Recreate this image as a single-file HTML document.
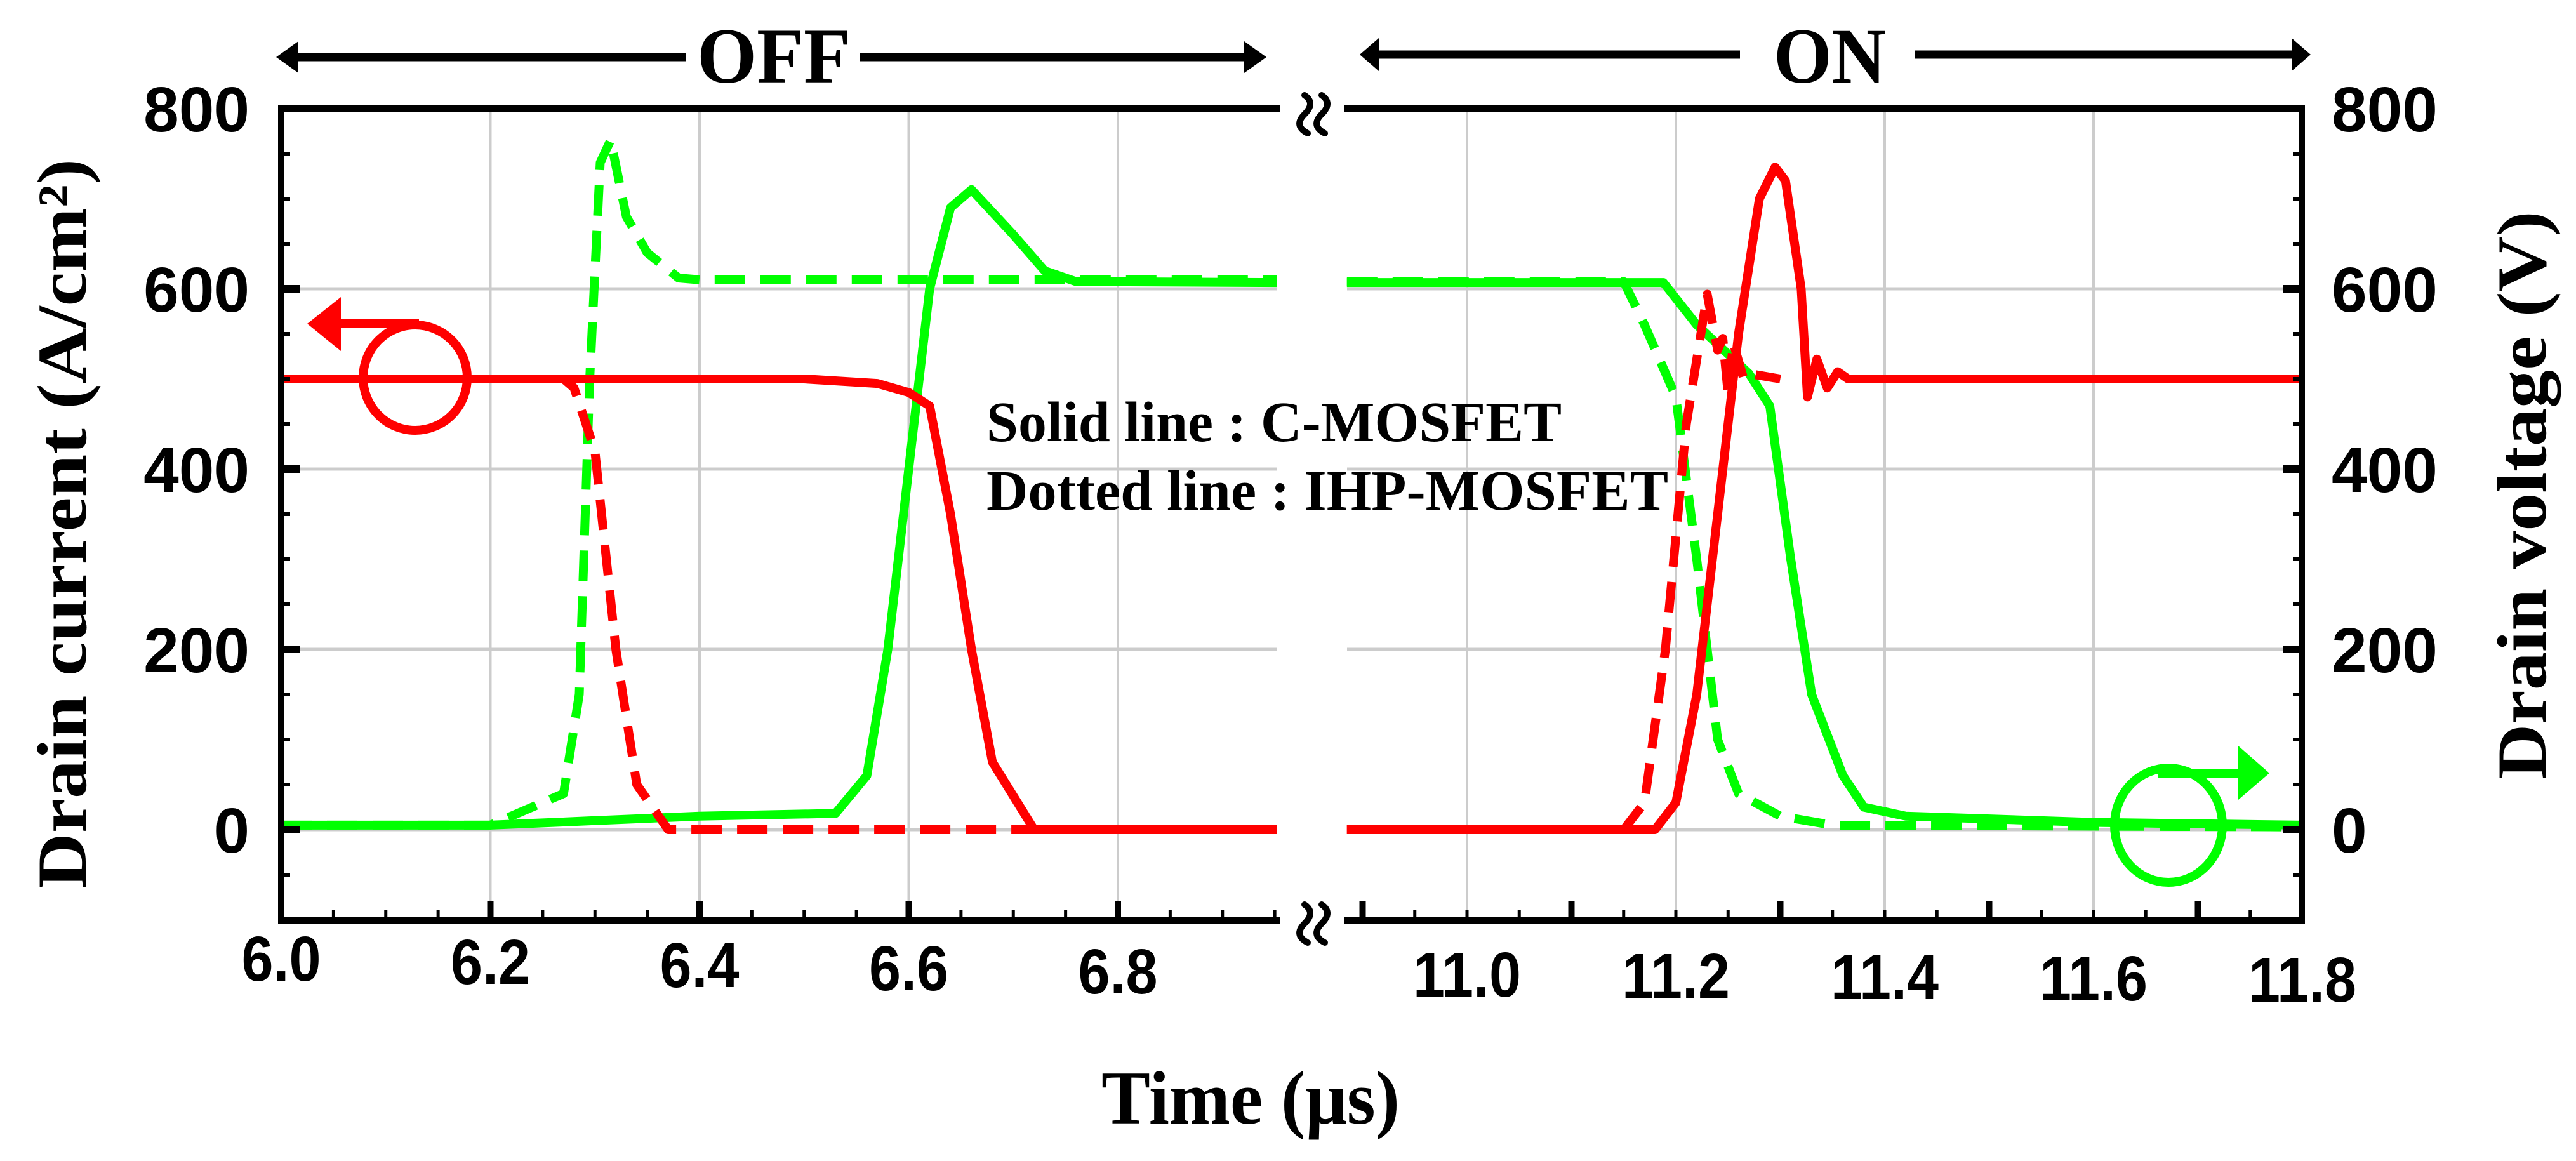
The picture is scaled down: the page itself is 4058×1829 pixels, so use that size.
<!DOCTYPE html>
<html><head><meta charset="utf-8"><style>
html,body{margin:0;padding:0;background:#fff;}
svg{display:block;}
text{font-family:"Liberation Serif",serif;font-weight:bold;fill:#000;}
.tk{font-family:"Liberation Sans",sans-serif;font-weight:bold;}
</style></head><body>
<svg id="chart" width="4058" height="1829" viewBox="0 0 4058 1829" xmlns="http://www.w3.org/2000/svg">
<g id="grid"></g>
<g id="series"></g>
<g id="axes"></g>
</svg>
<script>
// ---- data (time in µs, current in A/cm², voltage in V) ----
const yTicks = [0, 200, 400, 600, 800];
const xTicksOff = [6.0, 6.2, 6.4, 6.6, 6.8];
const xTicksOn = [11.0, 11.2, 11.4, 11.6, 11.8];
const xTickLabelsOff = ["6.0", "6.2", "6.4", "6.6", "6.8"];
const xTickLabelsOn = ["11.0", "11.2", "11.4", "11.6", "11.8"];

// C-MOSFET drain voltage (solid green)
const cVoltOffT = [6.0, 6.2, 6.3, 6.4, 6.53, 6.56, 6.58, 6.6, 6.62, 6.64, 6.66, 6.7, 6.73, 6.76, 6.952];
const cVoltOffV = [5, 5, 10, 15, 18, 60, 200, 400, 600, 690, 710, 660, 620, 608, 607];
const cVoltOnT = [10.885, 11.188, 11.22, 11.27, 11.29, 11.31, 11.33, 11.36, 11.38, 11.42, 11.6, 11.8];
const cVoltOnV = [607, 607, 560, 506, 470, 300, 150, 60, 25, 15, 8, 5];

// IHP-MOSFET drain voltage (dashed green)
const iVoltOffT = [6.0, 6.2, 6.27, 6.285, 6.295, 6.305, 6.315, 6.33, 6.35, 6.38, 6.4, 6.952];
const iVoltOffV = [5, 5, 40, 150, 500, 740, 765, 680, 640, 612, 610, 610];
const iVoltOnT = [10.885, 11.15, 11.17, 11.2, 11.22, 11.24, 11.26, 11.3, 11.35, 11.8];
const iVoltOnV = [608, 608, 560, 480, 300, 100, 40, 15, 5, 3];

// C-MOSFET drain current (solid red)
const cCurOffT = [6.0, 6.5, 6.57, 6.6, 6.62, 6.64, 6.66, 6.68, 6.72, 6.952];
const cCurOffV = [500, 500, 495, 485, 470, 350, 200, 75, 0, 0];
const cCurOnT = [10.885, 11.18, 11.2, 11.22, 11.24, 11.26, 11.28, 11.295, 11.305, 11.32, 11.326, 11.335, 11.345, 11.355, 11.365, 11.8];
const cCurOnV = [0, 0, 30, 150, 350, 550, 700, 735, 720, 600, 480, 522, 490, 508, 500, 500];

// IHP-MOSFET drain current (dashed red)
const iCurOffT = [6.0, 6.27, 6.28, 6.3, 6.32, 6.34, 6.37, 6.952];
const iCurOffV = [500, 500, 490, 420, 200, 50, 0, 0];
const iCurOnT = [10.885, 11.15, 11.17, 11.19, 11.21, 11.23, 11.24, 11.245, 11.25, 11.255, 11.265, 11.275, 11.3];
const iCurOnV = [0, 0, 30, 200, 450, 594, 532, 545, 483, 540, 500, 505, 500];

// ---- axis functions ----
const Y0 = 1307, PXV = 1.42;
function yS(v){ return Y0 - v*PXV; }
function xOff(t){ return 443 + (t-6.0)*1647.5; }
function xOn(t){ return 2311 + (t-11.0)*1645; }
const NS = "http://www.w3.org/2000/svg";
function mk(tag, attrs, parent){
  const e = document.createElementNS(NS, tag);
  for (const k in attrs) e.setAttribute(k, attrs[k]);
  parent.appendChild(e); return e;
}
const grid = document.getElementById('grid');
const ser = document.getElementById('series');
const ax = document.getElementById('axes');
const TOP = 171, BOT = 1450, L = 443, R = 3626, BRK1 = 2012, BRK2 = 2122;

yTicks.forEach(v => {
  if (v === 800) return;
  const g1 = mk('line', {x1:L, x2:BRK1, y1:yS(v), y2:yS(v), stroke:'#cccccc', 'stroke-width':5}, grid);
  
  
  const g2 = mk('line', {x1:BRK2, x2:R, y1:yS(v), y2:yS(v), stroke:'#cccccc', 'stroke-width':5}, grid);
  
  
});
xTicksOff.forEach(t => { if (t===6.0) return;
  const g = mk('line', {x1:xOff(t), x2:xOff(t), y1:TOP, y2:BOT, stroke:'#cccccc', 'stroke-width':4}, grid);
  
  
});
xTicksOn.forEach(t => { if (t===11.8) return;
  const g = mk('line', {x1:xOn(t), x2:xOn(t), y1:TOP, y2:BOT, stroke:'#cccccc', 'stroke-width':4}, grid);
  
  
});

function line(T, V, xf, color, dashed, name){
  const pts = T.map((t,i) => xf(t).toFixed(1)+','+yS(V[i]).toFixed(1)).join(' ');
  const a = {points:pts, fill:'none', stroke:color, 'stroke-width':14, 'stroke-linejoin':'round'};
  if (dashed) a['stroke-dasharray'] = '48 24';
  const p = mk('polyline', a, ser);
  
  
}
const G = '#00ff00', RD = '#ff0000';
line(iVoltOffT, iVoltOffV, xOff, G, true, 'ihp-voltage-off');
line(iVoltOnT, iVoltOnV, xOn, G, true, 'ihp-voltage-on');
line(cVoltOffT, cVoltOffV, xOff, G, false, 'c-voltage-off');
line(cVoltOnT, cVoltOnV, xOn, G, false, 'c-voltage-on');
line(iCurOffT, iCurOffV, xOff, RD, true, 'ihp-current-off');
line(iCurOnT, iCurOnV, xOn, RD, true, 'ihp-current-on');
line(cCurOffT, cCurOffV, xOff, RD, false, 'c-current-off');
line(cCurOnT, cCurOnV, xOn, RD, false, 'c-current-on');

const frame = [[L,TOP,BRK1,TOP],[BRK2,TOP,R,TOP],[L,BOT,BRK1,BOT],[BRK2,BOT,R,BOT],[L,TOP,L,BOT],[R,TOP,R,BOT]];
frame.forEach(f => {
  const e = mk('line', {x1:f[0], y1:f[1], x2:f[2], y2:f[3], stroke:'#000', 'stroke-width':10, 'stroke-linecap':'square'}, ax);
  
  
});
for (let v = -100; v <= 800; v += 50) {
  const major = v % 200 === 0;
  const len = major ? 30 : 14;
  const e1 = mk('line', {x1:L, x2:L+len, y1:yS(v), y2:yS(v), stroke:'#000', 'stroke-width':major?12:6}, ax);
  
  
  const e2 = mk('line', {x1:R, x2:R-len, y1:yS(v), y2:yS(v), stroke:'#000', 'stroke-width':major?12:6}, ax);
  
  
}
yTicks.forEach(v => {
  const a = mk('text', {x:393, y:yS(v)+36, 'text-anchor':'end', 'font-size':100, class:'tk'}, ax);
  a.textContent = v;
  
  
  const b = mk('text', {x:3673, y:yS(v)+36, 'text-anchor':'start', 'font-size':100, class:'tk'}, ax);
  b.textContent = v;
  
  
});
function xticks(t0, t1, xf){
  for (let k = 0; t0 + k*0.05 <= t1 + 1e-9; k++) {
    const t = t0 + k*0.05;
    const major = k % 4 === 0;
    const e = mk('line', {x1:xf(t), x2:xf(t), y1:BOT, y2:BOT-(major?30:16), stroke:'#000', 'stroke-width':major?10:5}, ax);
    
    
  }
}
xticks(6.0, 6.95, xOff);
xticks(10.9, 11.8, xOn);
xTicksOff.forEach((t,i) => {
  const e = mk('text', {x:xOff(t), y:1545 + i*5, 'text-anchor':'middle', 'font-size':100, textLength:125, lengthAdjust:'spacingAndGlyphs', class:'tk'}, ax);
  e.textContent = xTickLabelsOff[i];
  
  
});
xTicksOn.forEach((t,i) => {
  const e = mk('text', {x:xOn(t), y:1570 + i*2, 'text-anchor':'middle', 'font-size':100, textLength:170, lengthAdjust:'spacingAndGlyphs', class:'tk'}, ax);
  e.textContent = xTickLabelsOn[i];
  
  
});
</script>
<svg style="position:absolute;left:0;top:0" width="4058" height="1829">
  <g fill="none" stroke="#000" stroke-width="10" stroke-linecap="round">
    <path d="M2055,150 q18,12 0,30 q-18,18 5,30"/><path d="M2082,150 q18,12 0,30 q-18,18 5,30"/>
  </g>
  <g fill="none" stroke="#000" stroke-width="10" stroke-linecap="round">
    <path d="M2055,1425 q18,12 0,30 q-18,18 5,30"/><path d="M2082,1425 q18,12 0,30 q-18,18 5,30"/>
  </g>
  <g>
    <line x1="470" y1="90" x2="1080" y2="90" stroke="#000" stroke-width="13"/>
    <polygon points="435,90 470,65 470,115" fill="#000"/>
    <line x1="1355" y1="90" x2="1960" y2="90" stroke="#000" stroke-width="13"/>
    <polygon points="1995,90 1960,65 1960,115" fill="#000"/>
  </g>
  <text x="1098" y="130" font-size="124" textLength="242" lengthAdjust="spacingAndGlyphs">OFF</text>
  <g>
    <line x1="2170" y1="86" x2="2741" y2="86" stroke="#000" stroke-width="13"/>
    <polygon points="2142,86 2172,60 2172,112" fill="#000"/>
    <line x1="3017" y1="86" x2="3612" y2="86" stroke="#000" stroke-width="13"/>
    <polygon points="3640,86 3610,60 3610,112" fill="#000"/>
  </g>
  <text x="2794" y="130" font-size="124" textLength="177" lengthAdjust="spacingAndGlyphs">ON</text>
  <g>
    <ellipse cx="654" cy="595" rx="82" ry="83" fill="none" stroke="#ff0000" stroke-width="14"/>
    <line x1="536" y1="510" x2="660" y2="510" stroke="#ff0000" stroke-width="14"/>
    <polygon points="484,510 537,468 537,553" fill="#ff0000"/>
  </g>
  <g>
    <ellipse cx="3416" cy="1300" rx="85" ry="90" fill="none" stroke="#00ff00" stroke-width="14"/>
    <line x1="3400" y1="1218" x2="3528" y2="1218" stroke="#00ff00" stroke-width="14"/>
    <polygon points="3575,1218 3526,1175 3526,1260" fill="#00ff00"/>
  </g>
  <text x="1554" y="695" font-size="90" textLength="906" lengthAdjust="spacingAndGlyphs">Solid line : C-MOSFET</text>
  <text x="1554" y="803" font-size="90" textLength="1074" lengthAdjust="spacingAndGlyphs">Dotted line : IHP-MOSFET</text>
  <text x="1970" y="1770" font-size="120" text-anchor="middle" textLength="470" lengthAdjust="spacingAndGlyphs">Time (μs)</text>
  <text transform="translate(135,825) rotate(-90)" font-size="110" text-anchor="middle" textLength="1150" lengthAdjust="spacingAndGlyphs">Drain current (A/cm²)</text>
  <text transform="translate(4010,780) rotate(-90)" font-size="110" text-anchor="middle" textLength="895" lengthAdjust="spacingAndGlyphs">Drain voltage (V)</text>
</svg>
</body></html>
